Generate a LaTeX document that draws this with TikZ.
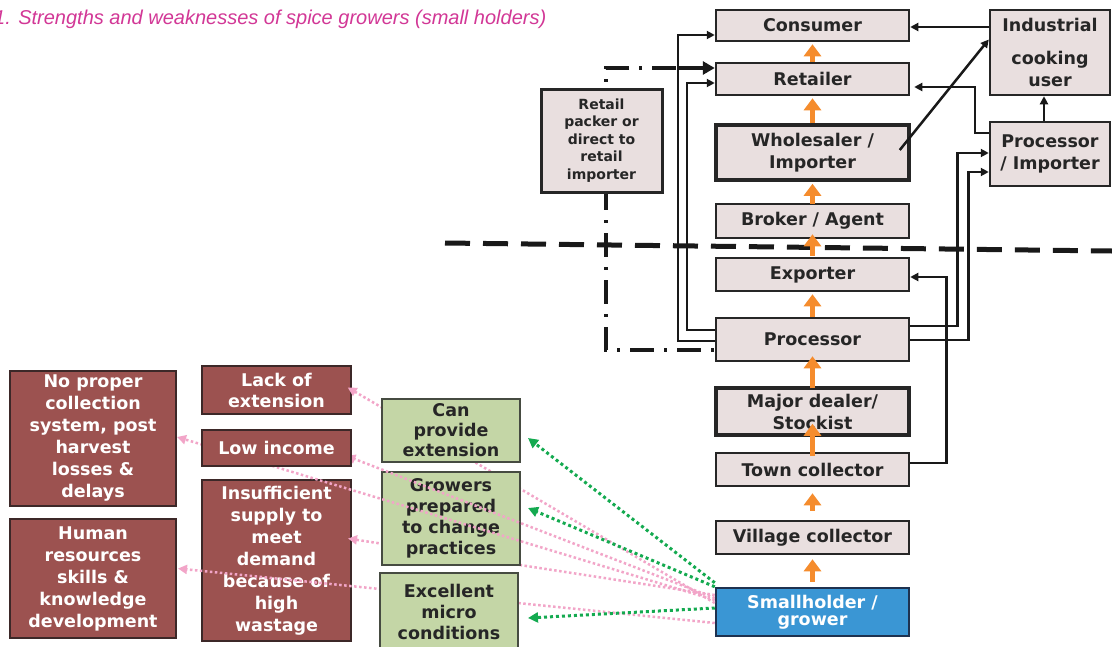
\documentclass[tikz,border=0pt]{standalone}
\usepackage{fontspec}
\setmainfont{DejaVu Sans}
\newfontfamily\titlefont{Liberation Sans}
\usetikzlibrary{arrows.meta,calc}
\pgfdeclarelayer{top}
\pgfsetlayers{main,top}
\definecolor{beige}{RGB}{233,223,223}
\definecolor{redfill}{RGB}{156,82,80}
\definecolor{reddraw}{RGB}{60,40,40}
\definecolor{greenfill}{RGB}{196,214,166}
\definecolor{greendraw}{RGB}{70,75,65}
\definecolor{bluefill}{RGB}{58,150,212}
\definecolor{bluedraw}{RGB}{30,50,80}
\definecolor{orangec}{RGB}{245,140,45}
\definecolor{pinkc}{RGB}{242,165,200}
\definecolor{greenc}{RGB}{20,170,80}
\definecolor{titlec}{RGB}{210,55,150}
\begin{document}
\begin{tikzpicture}[x=1pt,y=-1pt,
  box/.style={inner sep=0pt, align=center, font=\bfseries\fontsize{17.5}{22}\selectfont},
  colbox/.style={box, draw=black!85, line width=2.5pt, fill=beige, minimum width=193pt, text=black!85},
  redbox/.style={box, draw=reddraw, line width=2pt, fill=redfill, text=white},
  grbox/.style={box, draw=greendraw, line width=2pt, fill=greenfill, text=black!85, font=\bfseries\fontsize{17.5}{21}\selectfont},
  conn/.style={draw=black!90, line width=2.5pt, -{Triangle[length=8pt,width=8pt]}},
  bigconn/.style={draw=black!90, line width=4pt, -{Triangle[length=12pt,width=13pt]}},
  orarrow/.style={draw=orangec, line width=5.5pt, -{Triangle[length=12pt,width=17pt]}},
  pinkarr/.style={draw=pinkc, line width=2.5pt, dash pattern=on 2.5pt off 2.5pt, -{Triangle[length=9pt,width=9pt]}},
  grarr/.style={draw=greenc, line width=3pt, dash pattern=on 3pt off 3pt, -{Triangle[length=10pt,width=10pt]}},
  bigdash/.style={draw=black!90, line width=5pt, dash pattern=on 25pt off 13pt},
  dashdot/.style={draw=black!90, line width=3.5pt, dash pattern=on 24pt off 10pt on 3pt off 10pt}
]
\useasboundingbox (0,0) rectangle (1112,646);
\fill[white] (0,0) rectangle (1112,646);

% title
\node[anchor=base west, inner sep=0pt, text=titlec, font=\titlefont\itshape\fontsize{20}{24}\selectfont] (title) at (-6,24) {1. Strengths and weaknesses of spice growers (small holders)};

% background lines
\draw[bigdash] (445,243) -- (1112,251);
\coordinate (ddstart) at (676,68);
\coordinate (ddend) at (716,350);
\draw[dashdot] (ddstart) -- (606,68) -- (606,350) -- (ddend);

% column boxes
\node[colbox, minimum height=31pt] (consumer) at (812.5,25.5) {Consumer};
\node[colbox, minimum height=32pt] (retailer) at (812.5,79) {Retailer};
\node[colbox, minimum height=55pt, line width=3.5pt] (wholesaler) at (812.5,152.5) {Wholesaler /\\Importer};
\node[colbox, minimum height=34pt] (broker) at (812.5,221) {Broker / Agent};
\node[colbox, minimum height=33pt] (exporter) at (812.5,274.5) {Exporter};
\node[colbox, minimum height=43pt] (processor) at (812.5,339.5) {Processor};
\node[colbox, minimum height=47pt, line width=3.5pt] (major) at (812.5,411.5) {Major dealer/\\Stockist};
\node[colbox, minimum height=33pt] (town) at (812.5,469.5) {Town collector};
\node[colbox, minimum height=33pt] (village) at (812.5,537.5) {Village collector};
\node[colbox, minimum height=48pt, fill=bluefill, draw=bluedraw, text=white, font=\bfseries\fontsize{17.5}{17}\selectfont] (small) at (812.5,612) {Smallholder /\\grower};
\node[colbox, minimum width=120pt, minimum height=85pt] (industrial) at (1050,52.5) {Industrial\\[11pt]cooking\\user};
\node[colbox, minimum width=120pt, minimum height=64pt] (procimp) at (1050,154) {Processor\\/ Importer};
\node[colbox, minimum width=121pt, minimum height=103pt, line width=3pt, font=\bfseries\fontsize{14}{17.5}\selectfont] (packer) at (601.5,140.5) {Retail\\packer or\\direct to\\retail\\importer};

% black connectors
\draw[conn] ([yshift=-1.5pt]processor.west) -- ++(-37,0) |- ([yshift=-9.5pt]consumer.west);
\coordinate (jn) at (679,68);
\draw[bigconn] (jn) -- ([yshift=11pt]retailer.west);
\draw[conn] ([yshift=9.5pt]processor.west) -- ++(-28,0) |- ([yshift=-4pt]retailer.west);
\draw[conn] ([yshift=13.5pt]processor.east) -- ++(47,0) |- ([yshift=1pt]procimp.west);
\draw[conn] ([yshift=-0.5pt]processor.east) -- ++(58,0) |- ([yshift=-18pt]procimp.west);
\draw[conn] ([yshift=6.5pt]town.east) -- ++(36,0) |- ([yshift=-2.5pt]exporter.east);
\draw[conn, shorten >=4pt] ([yshift=21pt]procimp.west) -- ++(-14,0) |- ([yshift=-8pt]retailer.east);
\draw[conn] ([yshift=25.5pt]industrial.west) -- ([yshift=-1.5pt]consumer.east);
\draw[conn] ([xshift=-6pt]procimp.north) -- ([xshift=-6pt]industrial.south);
\draw[conn] ([xshift=-11pt,yshift=2.5pt]wholesaler.east) -- ([yshift=13pt]industrial.west);

% orange arrows
\draw[orarrow] ([yshift=5pt]small.north) -- ([yshift=-4pt]village.south);
\draw[orarrow] ([yshift=9pt]village.north) -- ([yshift=-6pt]town.south);
\draw[orarrow] ([yshift=-4pt]town.north) -- ([yshift=13pt]major.south);
\draw[orarrow] ([yshift=-2pt]major.north) -- ([yshift=6pt]processor.south);
\draw[orarrow] (processor.north) -- ([yshift=-2pt]exporter.south);
\draw[orarrow] ([yshift=1pt]exporter.north) -- ([yshift=5pt]broker.south);
\draw[orarrow] ([yshift=-1pt]broker.north) -- ([yshift=-2pt]wholesaler.south);
\draw[orarrow] (wholesaler.north) -- ([yshift=-2pt]retailer.south);
\draw[orarrow] (retailer.north) -- ([yshift=-2pt]consumer.south);

% red boxes
\node[redbox, minimum width=166pt, minimum height=135pt] (noproper) at (93,438.5) {No proper\\collection\\system, post\\harvest\\losses \&\\delays};
\node[redbox, minimum width=166pt, minimum height=119pt] (human) at (93,578.5) {Human\\resources\\skills \&\\knowledge\\development};
\node[redbox, minimum width=149pt, minimum height=48pt, font=\bfseries\fontsize{17.5}{21}\selectfont] (lack) at (276.5,390) {Lack of\\extension};
\node[redbox, minimum width=149pt, minimum height=161pt] (insuff) at (276.5,560.5) {Insufficient\\supply to\\meet\\demand\\because of\\high\\wastage};
\begin{pgfonlayer}{top}
\node[redbox, minimum width=149pt, minimum height=36pt] (lowinc) at (276.5,448) {Low income};
\end{pgfonlayer}

% pink lines (behind green boxes)
\draw[pinkarr, shorten >=-5pt] ([yshift=9pt]small.west) -- (lack.east);
\draw[pinkarr] ([yshift=17pt]small.west) -- ([xshift=-4pt,yshift=22pt]insuff.east);
\draw[pinkarr] ([yshift=-11pt]small.west) -- ([xshift=1pt,yshift=10pt]human.east);

% green boxes
\node[grbox, minimum width=138pt, minimum height=63pt, font=\bfseries\fontsize{17.5}{20}\selectfont] (canprov) at (451,430.5) {Can\\provide\\extension};
\node[grbox, minimum width=138pt, minimum height=93pt] (growers) at (451,518.5) {Growers\\prepared\\to change\\practices};
\node[grbox, minimum width=138pt, minimum height=78pt, anchor=north] (excellent) at (449,572) {Excellent\\micro\\conditions};

% pink lines over growers box, under the low income box
\draw[pinkarr] ([yshift=12pt]small.west) -- ([yshift=1.5pt]noproper.east);
\draw[pinkarr, shorten >=-6pt] ([yshift=14pt]small.west) -- ([yshift=-10pt]lowinc.east);

% green arrows
\draw[grarr] ([yshift=4pt]small.north west) -- ([xshift=7pt,yshift=-7.5pt]canprov.east);
\draw[grarr] (small.north west) -- ([xshift=7pt,yshift=10.5pt]growers.east);
\draw[grarr] ([yshift=4pt]small.west) -- ([xshift=9pt,yshift=-6pt]excellent.east);
\end{tikzpicture}
\end{document}
